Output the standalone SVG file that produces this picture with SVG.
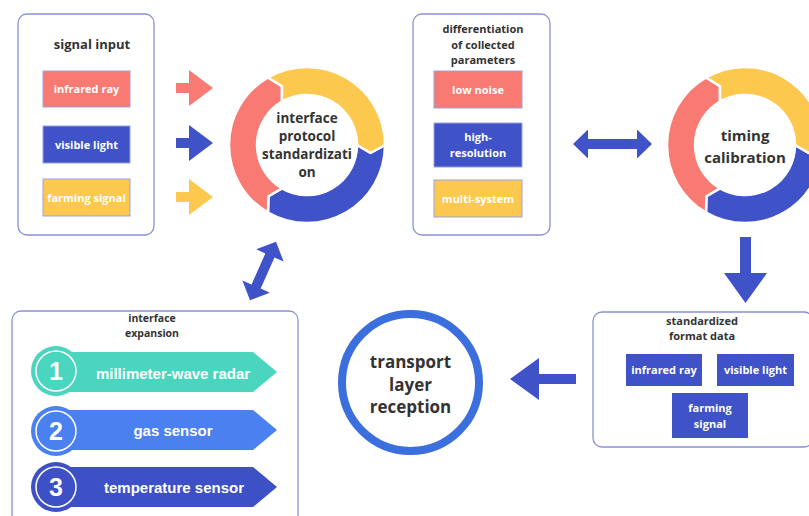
<svg xmlns="http://www.w3.org/2000/svg" width="809" height="516" viewBox="0 0 809 516">
<style>
.frame{fill:#fff;stroke:#8a90d6;stroke-width:1.3}
.t{font-family:"Open Sans","Liberation Sans",sans-serif;font-weight:700;text-anchor:middle}
.dk{fill:#333}
.wt{fill:#fff}
.red{fill:#f87a72}
.blu{fill:#3f52c8}
.yel{fill:#fcc84e}
.cell{stroke:#9ba1e2;stroke-width:1}
.seg{stroke:#fff;stroke-width:2.5;stroke-linejoin:miter}
.arr{fill:#3f52c8}
.ring{fill:none;stroke:#fff;stroke-width:1.5}
.ban{font-family:"Liberation Sans",Arial,sans-serif;font-weight:700;fill:#fff;text-anchor:middle}
</style>
<defs>
<g id="donut">
<path class="seg blu" d="M78,0 A78,78 0 0 1 -39,67.55 L-38.52,51.11 L-25,43.3 A50,50 0 0 0 50,0 L63.52,7.8 Z"/>
<path class="seg red" d="M-39,67.55 A78,78 0 0 1 -39,-67.55 L-25.01,-58.91 L-25,-43.3 A50,50 0 0 0 -25,43.3 L-38.52,51.11 Z"/>
<path class="seg yel" d="M-39,-67.55 A78,78 0 0 1 78,0 L63.52,7.8 L50,0 A50,50 0 0 0 -25,-43.3 L-25.01,-58.91 Z"/>
</g>
</defs>
<rect width="809" height="516" fill="#fff"/>

<g id="signal-input">
<rect class="frame" x="18" y="14" width="136" height="221" rx="9"/>
<text class="t dk" x="92" y="49" font-size="13">signal input</text>
<rect class="red cell" x="43" y="71" width="87" height="36"/>
<text class="t wt" x="86.5" y="93" font-size="11">infrared ray</text>
<rect class="blu cell" x="43" y="126" width="87" height="37"/>
<text class="t wt" x="86.5" y="148.5" font-size="11">visible light</text>
<rect class="yel cell" x="43" y="179" width="87" height="37"/>
<text class="t wt" x="86.5" y="201.5" font-size="11">farming signal</text>
</g>

<g id="interface-protocol">
<use href="#donut" transform="translate(307,145)"/>
<text class="t dk" font-size="13.5"><tspan x="307" y="123">interface</tspan><tspan x="307" y="141">protocol</tspan><tspan x="307" y="159">standardizati</tspan><tspan x="307" y="177">on</tspan></text>
</g>

<g id="differentiation">
<rect class="frame" x="413" y="14" width="137" height="221" rx="9"/>
<text class="t dk" font-size="11"><tspan x="483" y="33">differentiation</tspan><tspan x="483" y="48.5">of collected</tspan><tspan x="483" y="64">parameters</tspan></text>
<rect class="red cell" x="434" y="71" width="88" height="37"/>
<text class="t wt" x="478" y="93.5" font-size="11">low noise</text>
<rect class="blu cell" x="434" y="123" width="88" height="44"/>
<text class="t wt" font-size="11"><tspan x="478" y="141">high-</tspan><tspan x="478" y="157">resolution</tspan></text>
<rect class="yel cell" x="434" y="180" width="88" height="37"/>
<text class="t wt" x="478" y="202.5" font-size="11">multi-system</text>
</g>

<g id="timing-calibration">
<use href="#donut" transform="translate(745,145)"/>
<text class="t dk" font-size="15"><tspan x="745" y="140.5">timing</tspan><tspan x="745" y="162.5">calibration</tspan></text>
</g>

<g id="standardized-format">
<rect class="frame" x="593" y="312" width="220" height="135" rx="9"/>
<text class="t dk" font-size="11"><tspan x="702" y="325">standardized</tspan><tspan x="702" y="340">format data</tspan></text>
<rect class="blu" x="626" y="354" width="76" height="32"/>
<text class="t wt" x="664" y="374" font-size="11">infrared ray</text>
<rect class="blu" x="717" y="354" width="77" height="32"/>
<text class="t wt" x="755.5" y="374" font-size="11">visible light</text>
<rect class="blu" x="672" y="393" width="76" height="45"/>
<text class="t wt" font-size="11"><tspan x="710" y="412">farming</tspan><tspan x="710" y="428">signal</tspan></text>
</g>

<g id="transport-layer">
<circle cx="410.5" cy="382.5" r="68.5" fill="#fff" stroke="#3b6fde" stroke-width="8"/>
<text class="t dk" font-size="17"><tspan x="410.5" y="368">transport</tspan><tspan x="410.5" y="391">layer</tspan><tspan x="410.5" y="413">reception</tspan></text>
</g>

<g id="interface-expansion">
<rect class="frame" x="12" y="311" width="286" height="215" rx="9"/>
<text class="t dk" font-size="10.5"><tspan x="152" y="322">interface</tspan><tspan x="152" y="337">expansion</tspan></text>
<polygon points="56,352 253,352 277,372 253,392 56,392" fill="#4ad6be"/>
<circle cx="56" cy="371" r="25" fill="#4ad6be"/>
<circle class="ring" cx="56" cy="371" r="20"/>
<text class="ban" x="56" y="380" font-size="25">1</text>
<text class="ban" x="173" y="378.5" font-size="15">millimeter-wave radar</text>
<polygon points="56,410 253,410 277,430 253,450 56,450" fill="#4b80f0"/>
<circle cx="56" cy="431" r="25" fill="#4b80f0"/>
<circle class="ring" cx="56" cy="431" r="20"/>
<text class="ban" x="56" y="440" font-size="25">2</text>
<text class="ban" x="173" y="435.5" font-size="15">gas sensor</text>
<polygon points="56,467 253,467 277,487 253,507 56,507" fill="#3e50c6"/>
<circle cx="56" cy="487" r="25" fill="#3e50c6"/>
<circle class="ring" cx="56" cy="487" r="20"/>
<text class="ban" x="56" y="496" font-size="25">3</text>
<text class="ban" x="174" y="492.5" font-size="15">temperature sensor</text>
</g>

<g id="connectors">
<polygon fill="#f87a72" points="176,83 189,83 189,70 213,88 189,106 189,93 176,93"/>
<polygon class="arr" points="176,138 189,138 189,125 213,143 189,161 189,148 176,148"/>
<polygon fill="#fcc84e" points="176,192 189,192 189,179 213,197 189,215 189,202 176,202"/>
<polygon class="arr" points="573,144 588,129.5 588,139 637,139 637,129.5 652,144 637,158.5 637,149 588,149 588,158.5"/>
<polygon class="arr" points="740,237 751,237 751,273 767,273 745.5,303 724,273 740,273"/>
<polygon class="arr" points="510,379 539,358 539,374 576,374 576,384 539,384 539,400"/>
<polygon class="arr" transform="translate(263,271) rotate(-66)" points="-32,0 -17,-15 -17,-5 17,-5 17,-15 32,0 17,15 17,5 -17,5 -17,15"/>
</g>
</svg>
